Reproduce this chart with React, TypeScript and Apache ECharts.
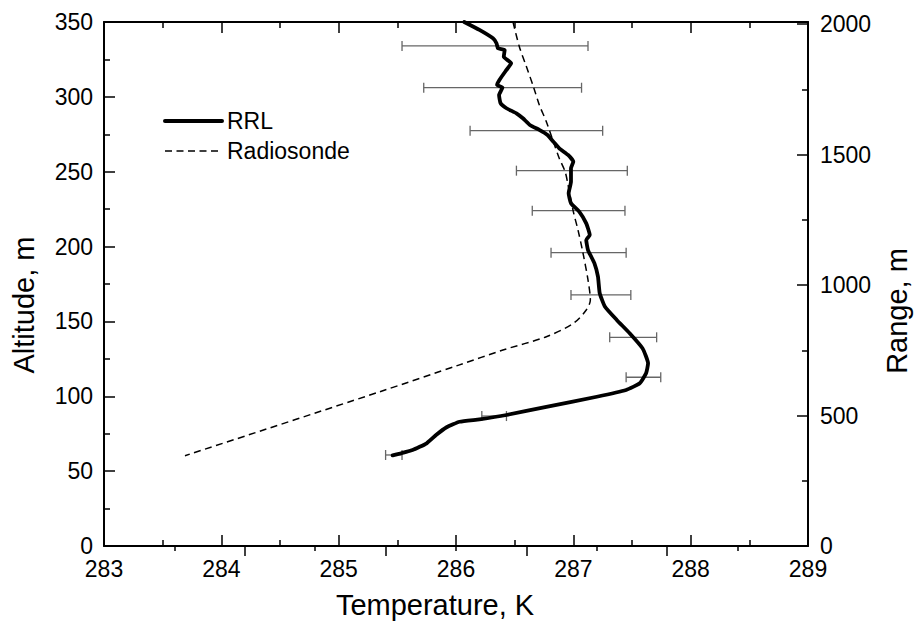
import React, { useEffect, useRef } from "react";
import * as echarts from "echarts";

// RRL temperature profile: [temperature K, altitude m]
const rrlTemperature = [286.07, 286.2, 286.315, 286.345, 286.358, 286.415, 286.407, 286.47, 286.43, 286.37, 286.35, 286.396, 286.367, 286.38, 286.43, 286.515, 286.57, 286.63, 286.71, 286.78, 286.83, 286.88, 286.955, 287.0, 286.98, 286.98, 286.96, 286.98, 287.05, 287.11, 287.14, 287.11, 287.125, 287.18, 287.21, 287.225, 287.27, 287.37, 287.48, 287.59, 287.637, 287.62, 287.566, 287.45, 287.2, 286.77, 286.43, 286.2, 286.03, 285.92, 285.83, 285.75, 285.63, 285.46];
const rrlAltitude = [350, 344.7, 339.1, 335.8, 332.4, 331.3, 326.8, 322.4, 318, 311.3, 308, 306.2, 301.2, 295.7, 292.4, 289, 285.7, 281.2, 277.9, 274.5, 270, 265.6, 261.2, 256.7, 252.3, 243.3, 235.6, 228.9, 223.3, 215.5, 207.7, 204.4, 197.7, 188.8, 179.9, 168.8, 159.8, 151, 142.1, 132, 122, 115.4, 108.7, 104.2, 99.7, 93.0, 87.5, 84.6, 83.0, 79.3, 74.1, 68.6, 64.1, 60.5];

// Radiosonde profile
const sondeTemperature = [286.486, 286.54, 286.6, 286.66, 286.71, 286.77, 286.83, 286.88, 286.93, 286.955, 287.0, 287.04, 287.08, 287.125, 287.145, 287.11, 287.0, 286.77, 286.4, 286.03, 285.35, 283.69];
const sondeAltitude = [350, 333.5, 320.2, 306.8, 294.6, 283.4, 270, 259, 250, 241.1, 223.3, 211, 196.6, 177.7, 164.3, 157.6, 148.7, 139.8, 130.9, 121, 103, 60.3];

// Error bars: altitude, low T, high T
const errAltitude = [334, 306.1, 277.4, 250.7, 224, 195.9, 167.7, 139.4, 112.7, 86.8, 60.8];
const errLow = [285.54, 285.725, 286.12, 286.515, 286.65, 286.81, 286.98, 287.31, 287.45, 286.22, 285.4];
const errHigh = [287.125, 287.07, 287.25, 287.46, 287.44, 287.45, 287.49, 287.71, 287.745, 286.43, 285.54];

// Range axis tick labels
const rangeTicks = [0, 500, 1000, 1500, 2000];
const rangeMinorTicks = [250, 750, 1250, 1750];

const FONT = "'Liberation Sans', Arial, sans-serif";

export default function App() {
  const ref = useRef<HTMLDivElement>(null);
  useEffect(() => {
    if (!ref.current) return;
    const chart = echarts.init(ref.current, null, { renderer: "svg" });
    const rrl = rrlTemperature.map((t, i) => [t, rrlAltitude[i]]);
    const sonde = sondeTemperature.map((t, i) => [t, sondeAltitude[i]]);
    const errs = errAltitude.map((a, i) => [a, errLow[i], errHigh[i]]);

    const axisLine = { show: true, onZero: false, lineStyle: { color: "#000", width: 2 } };
    const noLine = { show: false, onZero: false };
    const tickStyle = { color: "#000", width: 1.5 };
    const labelStyle = { color: "#000", fontSize: 23, fontFamily: FONT };

    chart.setOption({
      animation: false,
      backgroundColor: "#fff",
      grid: { left: 104, right: 106, top: 22, bottom: 75, containLabel: false },
      legend: {
        orient: "vertical",
        left: 158,
        top: 103,
        itemWidth: 57,
        itemHeight: 14,
        itemGap: 4,
        selectedMode: false,
        data: [
          { name: "RRL", lineStyle: { width: 4, color: "#000" } },
          { name: "Radiosonde", lineStyle: { width: 1.5, color: "#000", type: [7, 4.5] } },
        ],
        itemStyle: { opacity: 0 },
        textStyle: { color: "#000", fontSize: 23, lineHeight: 26, fontFamily: FONT },
      },
      xAxis: [
        {
          type: "value",
          position: "bottom",
          min: 283,
          max: 289,
          interval: 1,
          axisLine,
          axisTick: { show: true, inside: true, length: 11, lineStyle: tickStyle },
          minorTick: { show: true, splitNumber: 2, length: 6, lineStyle: tickStyle },
          splitLine: { show: false },
          axisLabel: { ...labelStyle, margin: 11 },
        },
        {
          type: "value",
          position: "top",
          min: 283,
          max: 289,
          interval: 1,
          axisLine,
          axisTick: { show: true, inside: true, length: 11, lineStyle: tickStyle },
          minorTick: { show: true, splitNumber: 2, length: 6, lineStyle: tickStyle },
          splitLine: { show: false },
          axisLabel: { show: false },
        },
        {
          type: "value",
          position: "bottom",
          min: 0,
          max: 5,
          axisLine: noLine,
          axisTick: { show: true, inside: false, length: 10, customValues: [1, 2, 3, 4], lineStyle: tickStyle },
          splitLine: { show: false },
          axisLabel: { show: false },
        },
        {
          type: "value",
          position: "bottom",
          min: 0,
          max: 5,
          axisLine: noLine,
          axisTick: { show: true, inside: false, length: 5, customValues: [0.5, 1.5, 2.5, 3.5, 4.5], lineStyle: tickStyle },
          splitLine: { show: false },
          axisLabel: { show: false },
        },
      ],
      yAxis: [
        {
          type: "value",
          position: "left",
          min: 0,
          max: 350,
          interval: 50,
          axisLine,
          axisTick: { show: true, inside: true, length: 11, lineStyle: tickStyle },
          minorTick: { show: true, splitNumber: 2, length: 6, lineStyle: tickStyle },
          splitLine: { show: false },
          axisLabel: { ...labelStyle, margin: 11 },
        },
        {
          type: "value",
          position: "right",
          min: 0,
          max: 2008,
          interval: 500,
          axisLine,
          axisTick: { show: true, inside: true, length: 11, customValues: rangeTicks, lineStyle: tickStyle },
          splitLine: { show: false },
          axisLabel: { ...labelStyle, margin: 12, customValues: rangeTicks, formatter: (v: number) => String(v) },
        },
        {
          type: "value",
          position: "right",
          min: 0,
          max: 2008,
          axisLine: noLine,
          axisTick: { show: true, inside: true, length: 6, customValues: rangeMinorTicks, lineStyle: tickStyle },
          splitLine: { show: false },
          axisLabel: { show: false },
        },
      ],
      graphic: [
        {
          type: "text",
          x: 435,
          y: 605,
          style: { text: "Temperature, K", fill: "#000", font: `29px ${FONT}`, align: "center", verticalAlign: "middle" },
        },
        {
          type: "text",
          x: 23.5,
          y: 305,
          rotation: Math.PI / 2,
          style: { text: "Altitude, m", fill: "#000", font: `29px ${FONT}`, align: "center", verticalAlign: "middle" },
        },
        {
          type: "text",
          x: 896.5,
          y: 311,
          rotation: Math.PI / 2,
          style: { text: "Range, m", fill: "#000", font: `29px ${FONT}`, align: "center", verticalAlign: "middle" },
        },
      ],
      series: [
        {
          type: "custom",
          name: "errors",
          xAxisIndex: 0,
          yAxisIndex: 0,
          data: errs,
          encode: { x: [1, 2], y: 0 },
          z: 1,
          renderItem: (params: any, api: any) => {
            const a = api.value(0);
            const p1 = api.coord([api.value(1), a]);
            const p2 = api.coord([api.value(2), a]);
            const h = 5;
            const st = { stroke: "#666", lineWidth: 1.3 };
            return {
              type: "group",
              children: [
                { type: "line", shape: { x1: p1[0], y1: p1[1], x2: p2[0], y2: p2[1] }, style: st },
                { type: "line", shape: { x1: p1[0], y1: p1[1] - h, x2: p1[0], y2: p1[1] + h }, style: st },
                { type: "line", shape: { x1: p2[0], y1: p2[1] - h, x2: p2[0], y2: p2[1] + h }, style: st },
              ],
            };
          },
        },
        {
          type: "line",
          name: "RRL",
          xAxisIndex: 0,
          yAxisIndex: 0,
          data: rrl,
          symbol: "none",
          smooth: 0.15,
          z: 3,
          lineStyle: { color: "#000", width: 3.8, cap: "round", join: "round" },
          itemStyle: { color: "#000" },
        },
        {
          type: "line",
          name: "Radiosonde",
          xAxisIndex: 0,
          yAxisIndex: 0,
          data: sonde,
          symbol: "none",
          smooth: 0.3,
          z: 2,
          lineStyle: { color: "#000", width: 1.5, type: [7, 4.5] },
          itemStyle: { color: "#000" },
        },
      ],
    });
    return () => chart.dispose();
  }, []);
  return <div ref={ref} style={{ position: "fixed", left: 0, top: 0, width: 914, height: 621 }} />;
}
